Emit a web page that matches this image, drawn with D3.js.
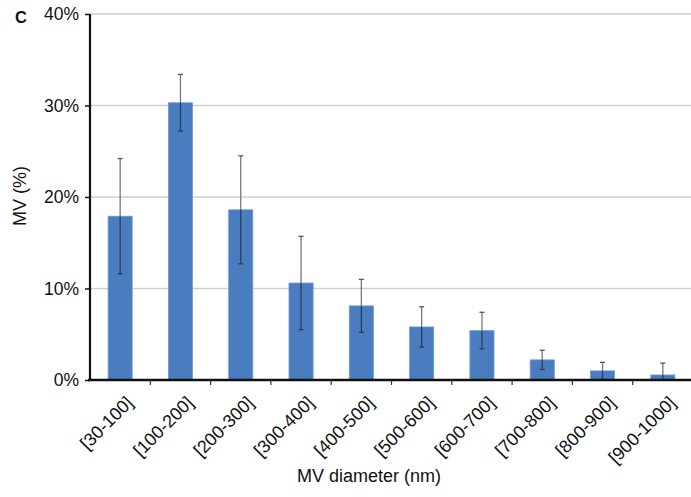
<!DOCTYPE html>
<html><head><meta charset="utf-8">
<script src="https://cdn.jsdelivr.net/npm/d3@7"></script>
<style>body{margin:0;background:#fff}svg{display:block}text{font-family:"Liberation Sans",Arial,sans-serif}</style>
</head><body><svg id="c" width="691" height="497"></svg>
<script>
const categories = ["[30-100]","[100-200]","[200-300]","[300-400]","[400-500]","[500-600]","[600-700]","[700-800]","[800-900]","[900-1000]"];
const values = [17.9, 30.3, 18.6, 10.6, 8.1, 5.8, 5.4, 2.2, 1.0, 0.55];
const errors = [6.3, 3.1, 5.9, 5.1, 2.9, 2.2, 2.0, 1.05, 0.93, 1.3];
const yTicks = [0, 10, 20, 30, 40];

const svg = d3.select("#c");
const x = d3.scaleBand().domain(categories).range([90, 693]).paddingInner(0.6).paddingOuter(0.3);
const xb = d3.scaleBand().domain(categories).range([90, 693]);
const y = d3.scaleLinear().domain([0, 40]).range([380, 14]);

// gridlines
svg.append("g").selectAll("line").data(yTicks.filter(d=>d>0)).join("line")
  .attr("x1", 90).attr("x2", 691).attr("y1", d=>y(d)).attr("y2", d=>y(d))
  .attr("stroke", "#cfcfcf").attr("stroke-width", 1.5);

// bars
svg.append("g").selectAll("rect").data(values).join("rect")
  .attr("x", (d,i)=>x(categories[i])).attr("width", x.bandwidth())
  .attr("y", d=>y(d)).attr("height", d=>y(0)-y(d))
  .attr("fill", "#4a7dbf").attr("stroke", "#6f9bd3").attr("stroke-width", 0.8);

// error bars
const eg = svg.append("g");
values.forEach((v,i)=>{
  const cx = x(categories[i]) + x.bandwidth()/2;
  const hi = v + errors[i], lo = Math.max(0, v - errors[i]);
  eg.append("line").attr("x1",cx).attr("x2",cx).attr("y1",y(hi)).attr("y2",y(v)).attr("stroke","#777").attr("stroke-width",1.3);
  eg.append("line").attr("x1",cx).attr("x2",cx).attr("y1",y(v)).attr("y2",y(lo)).attr("stroke","#2b3f5c").attr("stroke-width",1.3);
  eg.append("line").attr("x1",cx-2.5).attr("x2",cx+2.5).attr("y1",y(hi)).attr("y2",y(hi)).attr("stroke","#555").attr("stroke-width",1.3);
  if (v - errors[i] > 0)
    eg.append("line").attr("x1",cx-2.5).attr("x2",cx+2.5).attr("y1",y(lo)).attr("y2",y(lo)).attr("stroke","#2b3f5c").attr("stroke-width",1.3);
});

// y axis
const ya = svg.append("g").attr("transform","translate(90,0)")
  .call(d3.axisLeft(y).tickValues(yTicks).tickSize(5).tickPadding(6).tickFormat(d=>d+"%"));
ya.select(".domain").attr("stroke","#111").attr("stroke-width",2.2).attr("d","M0,14V381");
ya.selectAll(".tick line").attr("stroke","#111").attr("stroke-width",1.5);
ya.selectAll(".tick text").attr("font-size",17.5).attr("fill","#111").attr("font-family","Liberation Sans, Arial, sans-serif");

// x axis
const xa = svg.append("g").attr("transform","translate(0,380)");
xa.append("line").attr("x1",88).attr("x2",691).attr("y1",0).attr("y2",0).attr("stroke","#111").attr("stroke-width",2.5);
xa.selectAll("line.tk").data(categories.slice(1)).join("line").attr("class","tk")
  .attr("x1",d=>xb(d)).attr("x2",d=>xb(d)).attr("y1",0).attr("y2",5).attr("stroke","#333").attr("stroke-width",1.2);
xa.selectAll("text").data(categories).join("text")
  .attr("transform", d=>`translate(${x(d)+x.bandwidth()/2+14},${24}) rotate(-45)`)
  .attr("text-anchor","end").attr("font-size",18).attr("fill","#111").text(d=>d);

// titles
svg.append("text").attr("x",369).attr("y",482).attr("text-anchor","middle").attr("font-size",18).attr("fill","#111").text("MV diameter (nm)");
svg.append("text").attr("transform","translate(26,196) rotate(-90)").attr("text-anchor","middle").attr("font-size",18).attr("fill","#111").text("MV (%)");
svg.append("text").attr("x",15).attr("y",23).attr("font-size",16.5).attr("font-weight","bold").attr("fill","#111").text("C");
</script></body></html>
